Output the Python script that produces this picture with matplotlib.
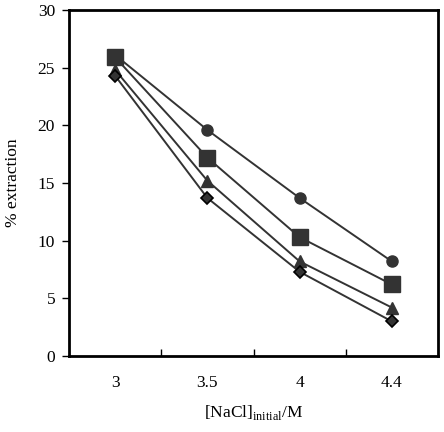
import matplotlib
matplotlib.use('Agg')
import matplotlib.pyplot as plt
import numpy as np

plt.rcParams['font.family'] = 'Liberation Serif'

categories = ['3', '3.5', '4', '4.4']
circles = [26.1, 19.6, 13.7, 8.2]
squares = [25.9, 17.2, 10.3, 6.2]
triangles = [24.8, 15.2, 8.2, 4.2]
diamonds = [24.3, 13.7, 7.3, 3.0]

x = np.arange(len(categories))
col = '#333333'

fig = plt.figure(figsize=(4.44, 4.32), dpi=100)
ax = fig.add_axes([69/444, 76/432, 369/444, 346/432])

ax.plot(x, circles, color=col, lw=1.4, marker='o', ms=8, mfc=col, mec=col)
ax.plot(x, squares, color=col, lw=1.4, marker='s', ms=11, mfc=col, mec=col)
ax.plot(x, triangles, color=col, lw=1.4, marker='^', ms=9, mfc=col, mec=col)
ax.plot(x, diamonds, color=col, lw=1.4, marker='D', ms=6, mfc=col, mec='black', mew=1.2)

ax.set_xlim(-0.5, 3.5)
ax.set_ylim(0, 30)
ax.set_yticks([0, 5, 10, 15, 20, 25, 30])
ax.set_xticks(x)
ax.set_xticklabels(categories)
ax.set_xticks([0.5, 1.5, 2.5], minor=True)
ax.tick_params(axis='x', which='major', length=0, pad=14, labelsize=12.5)
ax.tick_params(axis='x', which='minor', direction='in', length=5, width=1)
ax.tick_params(axis='y', direction='out', length=5, width=1, labelsize=12.5, pad=5)

for s in ax.spines.values():
    s.set_linewidth(2)

ax.set_ylabel('% extraction', fontsize=12.5, labelpad=12)
ax.set_xlabel(r'[NaCl]$_{\mathregular{initial}}$/M', fontsize=12.5, labelpad=8)

fig.savefig('out.png', dpi=100)
